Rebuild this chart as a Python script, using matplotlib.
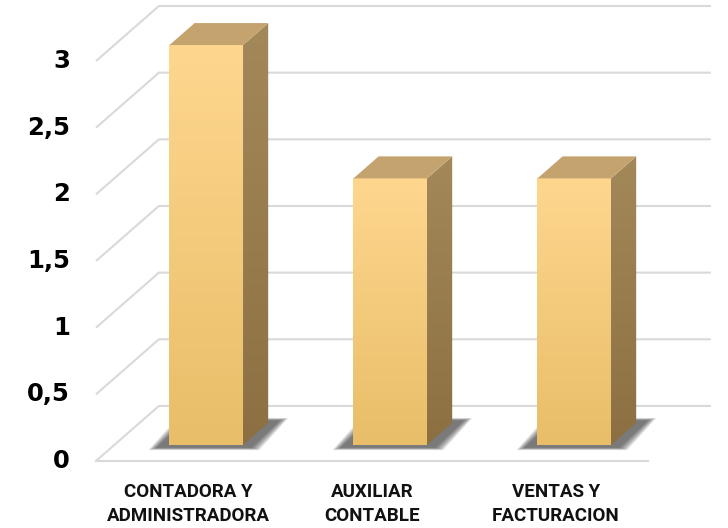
import numpy as np
import matplotlib
matplotlib.use("Agg")
import matplotlib.pyplot as plt
from matplotlib.patches import Polygon
from matplotlib.colors import LinearSegmentedColormap

# data
categories = ["CONTADORA Y\nADMINISTRADORA", "AUXILIAR\nCONTABLE", "VENTAS Y\nFACTURACION"]
values = [3, 2, 2]
ticks = [0, 0.5, 1, 1.5, 2, 2.5, 3]
tick_labels = ["0", "0,5", "1", "1,5", "2", "2,5", "3"]

# oblique "3d" look: full depth of the floor, expressed in data units
DX, DY = 0.342, 0.413
F0, F1 = 0.29, 0.69    # front / back of the bars as fraction of the depth
BAR_W = 0.40

fig = plt.figure(figsize=(7.28, 5.28), dpi=100)
ax = fig.add_axes([0, 0, 1, 1])
ax.set_xlim(-1.0217, 2.935)
ax.set_ylim(-0.5026, 3.458)
ax.axis("off")

grid_col = "#d9d9d9"
x_left, x_right = -0.5, len(categories) - 0.5

# walls / gridlines
for v in ticks:
    xs = [x_left, x_left + DX, x_right + DX]
    ys = [v, v + DY, v + DY]
    ax.plot(xs, ys, color=grid_col, lw=1.5, zorder=1, solid_capstyle="butt")
ax.plot([x_left, x_right], [0, 0], color=grid_col, lw=1.5, zorder=1)


def grad_fill(verts, c_top, c_bot, z):
    verts = np.array(verts)
    poly = Polygon(verts, closed=True, facecolor="none", edgecolor="none")
    ax.add_patch(poly)
    cmap = LinearSegmentedColormap.from_list("g", [c_bot, c_top])
    g = np.linspace(0, 1, 100).reshape(-1, 1)
    im = ax.imshow(g, cmap=cmap, origin="lower", aspect="auto", zorder=z,
                   extent=[verts[:, 0].min(), verts[:, 0].max(),
                           verts[:, 1].min(), verts[:, 1].max()])
    im.set_clip_path(poly)


def shadow(x0, x1, y0):
    # soft shadow on the floor, stacked polygons to fake a blur
    ddx = DX * (F1 - F0) + 0.02
    ddy = DY * (F1 - F0) + 0.04
    yb = y0 - 0.02
    for k in np.linspace(1, 0, 12):
        e = 0.045 * k
        pts = [(x0 - 0.07 - e, yb - e * 0.4),
               (x1 + 0.045 + e, yb - e * 0.4),
               (x1 + 0.045 + ddx + e, yb + ddy + e * 0.4),
               (x0 - 0.07 + ddx - e, yb + ddy + e * 0.4)]
        ax.add_patch(Polygon(pts, closed=True, facecolor="#2a2a2a", edgecolor="none",
                             alpha=0.075, zorder=2))


for i, v in enumerate(values):
    fx0 = i - BAR_W / 2 + DX * F0
    fx1 = fx0 + BAR_W
    fy0 = DY * F0
    ddx = DX * (F1 - F0)
    ddy = DY * (F1 - F0)
    shadow(fx0, fx1, fy0)
    # front face
    grad_fill([(fx0, fy0), (fx1, fy0), (fx1, fy0 + v), (fx0, fy0 + v)],
              "#fed68e", "#e9be69", 3)
    # side face
    grad_fill([(fx1, fy0), (fx1 + ddx, fy0 + ddy), (fx1 + ddx, fy0 + v + ddy), (fx1, fy0 + v)],
              "#a3885a", "#8c7041", 3)
    # top face
    ax.add_patch(Polygon([(fx0, fy0 + v), (fx1, fy0 + v), (fx1 + ddx, fy0 + v + ddy),
                          (fx0 + ddx, fy0 + v + ddy)], closed=True,
                         facecolor="#c4a36e", edgecolor="none", zorder=3))

# value labels on the left
for t, lab in zip(ticks, tick_labels):
    ax.text(x_left - 0.141, t, lab, ha="right", va="center", fontsize=17.5,
            fontweight="bold", family="DejaVu Sans", color="black")

# category labels
for i, lab in enumerate(categories):
    ax.text(i, -0.3225, lab, ha="center", va="center", fontsize=13.5, fontweight="bold",
            family=["Roboto", "DejaVu Sans"], linespacing=1.4, color="#111111")

fig.savefig("out.png", dpi=100)
